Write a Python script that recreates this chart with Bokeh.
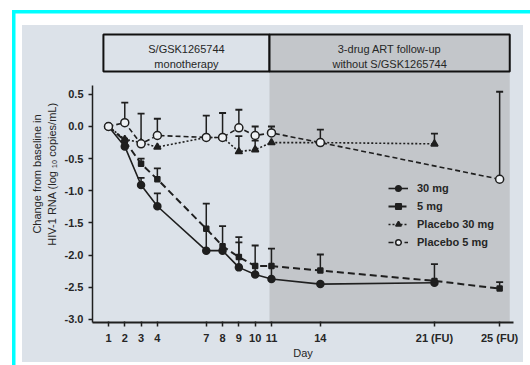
import math
from bokeh.plotting import figure
from bokeh.models import Range1d, FixedTicker, Legend, LegendItem
from bokeh.core.properties import value
from bokeh.embed import file_html
from bokeh.resources import INLINE

nan = float("nan")

# ---------------- data ----------------
days = [1, 2, 3, 4, 7, 8, 9, 10, 11, 14, 21, 25]
day_labels = ["1", "2", "3", "4", "7", "8", "9", "10", "11", "14", "21 (FU)", "25 (FU)"]
y_ticks = [0.5, 0.0, -0.5, -1.0, -1.5, -2.0, -2.5, -3.0]
y_tick_labels = ["0.5", "0.0", "-0.5", "-1.0", "-1.5", "-2.0", "-2.5", "-3.0"]

mg30 = [0.0, -0.31, -0.91, -1.24, -1.93, -1.93, -2.19, -2.30, -2.37, -2.45, -2.43, nan]
mg30_upper = [nan, nan, -0.80, -1.04, -1.20, -1.55, -1.72, -1.85, -1.90, nan, -2.14, nan]

mg5 = [0.0, -0.22, -0.58, -0.82, -1.59, -1.86, -2.03, -2.17, -2.17, -2.24, -2.40, -2.52]
mg5_upper = [nan, nan, -0.50, -0.65, nan, nan, -1.80, nan, nan, -1.99, nan, -2.42]

pl30 = [0.0, -0.20, -0.25, -0.32, -0.17, -0.17, -0.39, -0.36, -0.25, -0.25, -0.27, nan]
pl30_upper = [nan, nan, nan, nan, nan, nan, -0.15, -0.22, nan, nan, -0.11, nan]

pl5 = [0.0, 0.06, -0.27, -0.14, -0.17, -0.17, -0.02, -0.14, -0.10, -0.25, nan, -0.82]
pl5_upper = [nan, 0.37, 0.20, 0.12, 0.17, 0.21, 0.26, 0.0, 0.0, -0.05, nan, 0.54]

series_names = ["30 mg", "5 mg", "Placebo 30 mg", "Placebo 5 mg"]

phase_labels = ["S/GSK1265744\nmonotherapy", "3-drug ART follow-up\nwithout S/GSK1265744"]
phase_start = [0.69, 10.88]
phase_end = [10.88, 25.62]

# ---------------- style ----------------
BG = "#dce2e9"
DARK = "#c3c6ca"
INK = "#1f1f1f"
TXT = "#262626"
FONT = "Liberation Sans"

W, H = 530, 365
p = figure(width=W, height=H, output_backend="svg", toolbar_location=None,
           x_range=Range1d(0.02, 25.85), y_range=Range1d(-3.047, 1.57),
           min_border_left=92, min_border_right=17, min_border_top=25,
           min_border_bottom=43)
p.background_fill_color = BG
p.border_fill_alpha = 0
p.outline_line_color = None
p.xgrid.visible = False
p.ygrid.visible = False
# photographed page: white margin, cyan edge, light paper
p.styles = {
    "background": (
        "linear-gradient(#00ffff,#00ffff) 12px 10px / 518px 3.5px no-repeat, "
        "linear-gradient(#00ffff,#00ffff) 12px 10px / 3.5px 355px no-repeat, "
        f"linear-gradient({BG},{BG}) 22px 25px / 501px 337px no-repeat, #ffffff"
    )
}

# shaded follow-up region + header boxes
hdr_bottom, hdr_top = 0.855, 1.43
p.quad(left=[phase_start[1]], right=[phase_end[1]], bottom=[-3.047], top=[hdr_bottom],
       fill_color=DARK, line_color=None)
p.quad(left=phase_start, right=phase_end, bottom=[hdr_bottom] * 2, top=[hdr_top] * 2,
       fill_color=[BG, DARK], line_color="#111111", line_width=2)
p.text(x=[(a + b) / 2 for a, b in zip(phase_start, phase_end)], y=[1.09, 1.09],
       text=phase_labels, text_align="center", text_baseline="middle",
       text_font=value(FONT), text_font_size="11px", text_color=TXT,
       text_line_height=1.2)

# ---------------- series ----------------
def clean(xs, ys):
    pts = [(x, y) for x, y in zip(xs, ys) if not math.isnan(y)]
    return [a for a, _ in pts], [b for _, b in pts]

styles = [
    dict(vals=mg30, up=mg30_upper, dash="solid", lw=1.6, marker="circle", size=7,
         fill=INK),
    dict(vals=mg5, up=mg5_upper, dash="7 4", lw=2.0, marker="square", size=5,
         fill=INK),
    dict(vals=pl30, up=pl30_upper, dash="2 2", lw=1.6, marker="triangle", size=7,
         fill=INK),
    dict(vals=pl5, up=pl5_upper, dash="5 3", lw=1.6, marker="circle", size=8,
         fill="#eef1f4"),
]

items = []
for name, st in zip(series_names, styles):
    xs, ys = clean(days, st["vals"])
    ex, ey, eu = [], [], []
    for d, v, u in zip(days, st["vals"], st["up"]):
        if not math.isnan(v) and not math.isnan(u):
            ex.append(d); ey.append(v); eu.append(u)
    if ex:
        p.segment(x0=ex, y0=ey, x1=ex, y1=eu, line_color=INK, line_width=1.5)
        p.scatter(x=ex, y=eu, marker="dash", size=7, line_color=INK, line_width=1.8)
    ln = p.line(xs, ys, line_color=INK, line_width=st["lw"], line_dash=st["dash"])
    sc = p.scatter(xs, ys, marker=st["marker"], size=st["size"], fill_color=st["fill"],
                   line_color=INK, line_width=1.5)
    items.append(LegendItem(label=name, renderers=[ln, sc]))

legend = Legend(items=items, location=(296, 73), padding=0, margin=0, spacing=4,
                glyph_width=20, glyph_height=14, label_height=14, label_standoff=9,
                background_fill_alpha=0, border_line_color=None,
                label_text_font=FONT, label_text_font_size="11px",
                label_text_font_style="bold", label_text_color=TXT)
p.add_layout(legend)

# ---------------- axes ----------------
p.xaxis.ticker = FixedTicker(ticks=days)
p.xaxis.major_label_overrides = {d: l for d, l in zip(days, day_labels)}
p.xaxis.axis_label = "Day"
p.xaxis.minor_tick_line_color = None
p.xaxis.major_tick_out = 4
p.xaxis.major_tick_in = 1
p.xaxis.major_label_standoff = 5
p.xaxis.axis_label_standoff = 0
p.xaxis.axis_line_width = 2

p.yaxis.ticker = FixedTicker(ticks=y_ticks)
p.yaxis.major_label_overrides = {t: l for t, l in zip(y_ticks, y_tick_labels)}
p.yaxis.axis_label = "Change from baseline in\nHIV-1 RNA (log \u2081\u2080 copies/mL)"
p.yaxis.bounds = (-3.047, 0.64)
p.yaxis.minor_tick_line_color = None
p.yaxis.major_tick_out = 4
p.yaxis.major_tick_in = 0
p.yaxis.major_label_standoff = 5
p.yaxis.axis_label_standoff = 4
p.yaxis.axis_line_width = 1.5

for ax in (p.xaxis[0], p.yaxis[0]):
    ax.axis_line_color = INK
    ax.major_tick_line_color = INK
    ax.major_tick_line_width = 1.5
    ax.major_label_text_font = FONT
    ax.major_label_text_font_size = "11px"
    ax.major_label_text_font_style = "bold"
    ax.major_label_text_color = TXT
    ax.axis_label_text_font = FONT
    ax.axis_label_text_font_size = "11px"
    ax.axis_label_text_font_style = "normal"
    ax.axis_label_text_color = TXT

open("out.html", "w").write(file_html(p, INLINE))
